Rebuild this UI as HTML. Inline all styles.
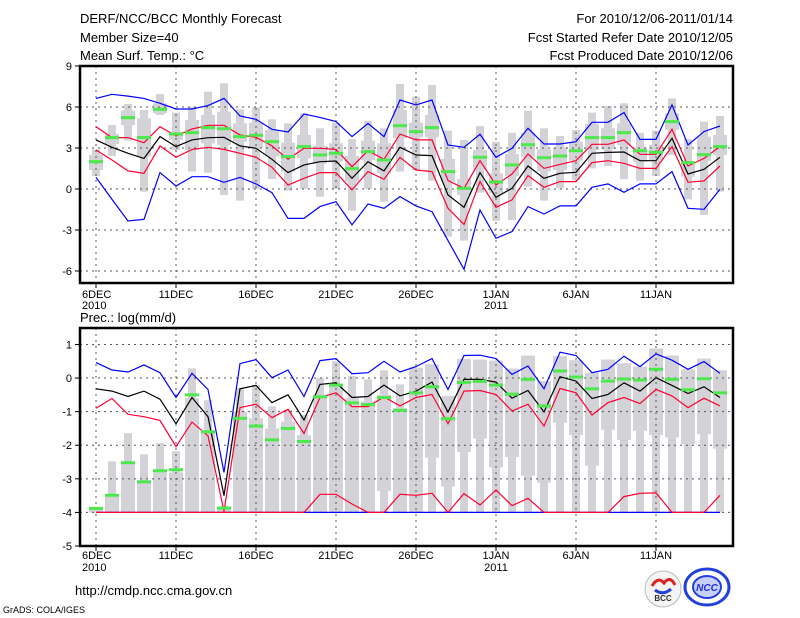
<!DOCTYPE html>
<html><head><meta charset="utf-8"><style>
body{margin:0;background:#fff;width:800px;height:618px;overflow:hidden}
svg{display:block;font-family:"Liberation Sans",sans-serif}
</style></head><body>
<svg id="c" width="800" height="618" xmlns="http://www.w3.org/2000/svg">
<text x="80" y="23" font-size="13">DERF/NCC/BCC Monthly Forecast</text>
<text x="80" y="42" font-size="13">Member Size=40</text>
<text x="80" y="60" font-size="13">Mean Surf. Temp.: °C</text>
<text x="733" y="23" font-size="13" text-anchor="end">For 2010/12/06-2011/01/14</text>
<text x="733" y="42" font-size="13" text-anchor="end">Fcst Started Refer Date 2010/12/05</text>
<text x="733" y="60" font-size="13" text-anchor="end">Fcst Produced Date 2010/12/06</text>
<text x="80" y="322" font-size="13">Prec.: log(mm/d)</text>
<text x="75" y="595" font-size="13">http://cmdp.ncc.cma.gov.cn</text>
<text x="3" y="613" font-size="9">GrADS: COLA/IGES</text>
<g><circle cx="663" cy="589" r="18" fill="#f4f4f4" stroke="#bbb"/><path d="M652 586 q6 -10 12 -3 q6 -8 11 2" fill="none" stroke="#e02020" stroke-width="3"/><path d="M655 590 q8 6 16 -1" fill="none" stroke="#2040d0" stroke-width="3"/><text x="663" y="601" font-size="8" font-weight="bold" text-anchor="middle" fill="#333">BCC</text></g>
<g><ellipse cx="707" cy="587" rx="22" ry="18" fill="none" stroke="#2040e0" stroke-width="3"/><ellipse cx="707" cy="587" rx="14" ry="11" fill="#c8d0ff" stroke="#2040e0" stroke-width="2"/><text x="707" y="591" font-size="10" font-style="italic" font-weight="bold" text-anchor="middle" fill="#2030d0">NCC</text></g>
</svg>
<script>
const days=['6DEC','11DEC','16DEC','21DEC','26DEC','1JAN','6JAN','11JAN'];
const years=['2010','','','','','2011','',''];
const tTicks=[9,6,3,0,-3,-6];
const pTicks=[1,0,-1,-2,-3,-4,-5];
// temperature
const tMean=[3.59,3.05,2.61,2.24,3.83,3.1,3.59,3.75,3.78,3.15,2.98,2.17,1.2,1.76,2.0,2.05,0.78,2.0,1.32,3.05,2.49,2.44,-0.44,-1.34,1.2,-0.61,0.05,1.68,0.78,1.15,1.22,2.61,2.68,2.71,2.07,2.07,3.71,1.1,1.44,2.32];
const tRedHi=[4.56,3.76,3.76,3.39,4.56,3.88,4.39,4.66,4.66,3.95,3.78,3.15,2.17,2.98,2.98,2.9,1.63,2.8,2.17,4.02,3.59,3.59,0.61,0.05,2.07,0.29,1.1,2.56,1.51,1.8,2.07,3.27,3.27,3.59,2.54,2.54,4.37,1.68,2.24,3.1];
const tRedLo=[2.85,2.12,1.32,1.15,3.15,2.32,2.9,3.05,2.9,2.61,2.32,1.59,0.29,0.78,1.2,1.2,-0.07,1.27,0.71,2.32,1.39,1.27,-1.41,-2.59,0.54,-1.34,-0.8,0.98,0.12,0.54,0.54,1.93,2.07,1.88,1.51,1.51,3.1,0.49,0.59,1.68];
const tBlueHi=[6.63,6.93,6.8,6.63,6.27,5.85,5.85,6.1,6.63,5.34,5.1,4.37,4.17,5.49,5.24,4.93,3.83,4.8,3.83,6.51,6.15,6.51,3.22,3.05,4.0,2.32,2.98,4.44,3.29,3.29,3.46,4.88,4.88,5.59,3.63,3.63,6.15,3.22,4.2,4.61];
const tBlueLo=[0.85,-0.76,-2.34,-2.22,1.2,0.22,0.9,0.9,0.49,0.85,0.37,-0.27,-2.15,-2.15,-1.29,-0.93,-2.63,-1.1,-1.41,-0.56,-1.24,-1.66,-3.78,-5.88,-1.54,-3.61,-3.12,-1.29,-1.83,-1.24,-1.24,0.12,0.37,-0.24,0.37,0.37,1.27,-1.41,-1.49,-0.02];
const tObs=[2.0,3.76,5.22,3.76,5.83,4.02,4.12,4.49,4.41,3.83,3.93,3.46,2.37,3.1,2.49,2.61,1.49,2.73,2.12,4.63,4.2,4.49,1.27,0.05,2.32,0.51,1.76,3.24,2.29,2.41,2.8,3.76,3.76,4.12,2.8,2.68,4.93,1.93,2.51,3.1];
const tMax=[2.9,4.68,6.22,5.78,6.95,5.59,6.02,7.12,7.73,5.83,5.98,5.1,4.8,5.54,4.44,4.85,3.66,5.0,4.44,7.68,6.76,7.61,4.27,3.59,4.61,3.46,4.12,5.73,4.44,3.88,4.32,5.59,6.07,6.27,4.12,4.27,6.63,3.66,4.93,5.34];
const tMin=[0.95,2.41,3.54,-0.2,5.41,2.85,1.27,1.2,-0.44,-0.85,-0.02,0.73,-0.12,0,-0.56,0,-1.59,0,-0.93,1.27,1.39,0.61,-3.49,-3.78,-0.27,-2.32,-2.27,0.17,-0.85,0.05,0.66,1.51,1.68,0.71,0.61,0.95,2.49,-0.76,-1.9,-0.2];
const tQ3=[2.49,4.02,5.73,5.17,6.27,4.2,5.05,5.41,5.66,4.8,4.85,4.32,3.39,3.95,3.15,3.34,2.41,3.54,3.34,5.78,4.85,5.41,2.2,0.73,2.85,1.15,2.56,4.12,2.9,3.05,3.46,4.76,4.44,4.8,3.05,3.22,5.54,2.0,3.83,3.95];
const tQ1=[1.39,3.29,4.68,2.37,5.54,3.59,2.85,3.34,3.22,3.46,3.05,2.37,1.27,2.24,1.83,2.0,0.54,2.12,1.15,3.71,3.78,3.78,0.54,-0.44,1.39,-0.32,0.95,2.37,1.27,1.39,2.07,2.85,2.9,3.22,2.0,2.12,4.32,0.9,2.05,2.49];
// precipitation
const pMean=[-0.32,-0.39,-0.55,-0.39,-0.63,-1.36,-0.58,-1.15,-3.5,-0.32,-0.22,-0.73,-0.5,-1.25,-0.19,-0.14,-0.58,-0.55,-0.21,-0.53,-0.39,-0.12,-1.01,-0.04,-0.04,-0.12,-0.6,-0.37,-1.01,0.04,-0.09,-0.61,-0.49,-0.14,-0.39,0.01,-0.22,-0.46,-0.26,-0.58];
const pBlueHi=[0.46,0.24,0.18,0.39,0.16,-0.58,0.14,-0.34,-2.81,0.43,0.55,0.01,0.24,-0.55,0.52,0.58,0.13,0.16,0.5,0.18,0.34,0.58,-0.34,0.67,0.68,0.58,0.11,0.36,-0.32,0.77,0.67,0.16,0.26,0.65,0.34,0.72,0.53,0.26,0.49,0.14];
const pRedHi=[-0.9,-0.61,-1.08,-1.15,-1.26,-2.04,-1.31,-1.72,-3.97,-0.88,-0.78,-1.18,-0.93,-1.65,-0.58,-0.44,-0.85,-0.85,-0.56,-0.83,-0.58,-0.49,-1.36,-0.39,-0.37,-0.49,-0.98,-0.78,-1.43,-0.31,-0.44,-1.1,-0.73,-0.58,-0.76,-0.34,-0.53,-0.88,-0.6,-0.83];
const pRedLo=[-4,-4,-4,-4,-4,-4,-4,-4,-4,-4,-4,-4,-4,-4,-3.46,-3.46,-3.75,-4,-4,-3.46,-3.49,-3.43,-4,-3.44,-3.78,-3.33,-3.8,-3.58,-4,-4,-4,-4,-4,-3.53,-3.43,-3.42,-4,-4,-4,-3.49];
const pBlueLo=[-4,-4,-4,-4,-4,-4,-4,-4,-4,-4,-4,-4,-4,-4,-4,-4,-4,-4,-4,-4,-4,-4,-4,-4,-4,-4,-4,-4,-4,-4,-4,-4,-4,-4,-4,-4,-4,-4,-4,-4];
const pObs=[-3.88,-3.49,-2.52,-3.09,-2.76,-2.73,-0.5,-1.6,-3.87,-1.2,-1.43,-1.84,-1.5,-1.89,-0.56,-0.21,-0.74,-0.79,-0.58,-0.96,-0.44,-0.26,-1.21,-0.13,-0.1,-0.21,-0.48,-0.04,-0.83,0.21,0.03,-0.32,-0.09,-0.03,-0.06,0.26,-0.04,-0.35,-0.02,-0.44];
const pMax=[-3.9,-2.48,-1.64,-2.27,-1.94,-2.18,0.29,-0.66,-3.8,-0.3,-0.2,-0.84,-0.93,-1.1,0.0,0.5,0.06,-0.04,0.23,-0.19,0.31,0.41,-0.53,0.57,0.55,0.52,0.28,0.67,-0.09,0.65,0.53,0.16,0.55,0.44,0.34,0.88,0.67,0.26,0.58,0.23];
const pQ3=[-3.9,-3.53,-2.5,-3.1,-2.81,-2.81,-0.6,-1.6,-3.85,-1.0,-1.2,-1.5,-1.3,-1.7,-0.5,-0.2,-0.6,-0.7,-0.5,-0.9,0.31,0.41,-0.53,0.57,0.55,0.52,0.28,0.67,-0.09,0.65,0.53,0.16,0.55,0.44,0.34,0.88,0.67,0.26,0.58,0.23];
const pQ1=[-4,-4,-4,-4,-4,-4,-4,-4,-4,-4,-4,-4,-4,-4,-4,-4,-4,-4,-3.36,-4,-4,-2.37,-3.23,-2.2,-1.8,-2.66,-2.35,-2.91,-3.11,-1.33,-1.7,-2.61,-1.54,-1.84,-1.57,-1.7,-1.77,-1.97,-1.67,-2.1];
const pMin=pBlueLo;

const svg=document.getElementById('c');
const NS='http://www.w3.org/2000/svg';
function mk(tag,attrs,parent){const e=document.createElementNS(NS,tag);for(const k in attrs)e.setAttribute(k,attrs[k]);(parent||svg).appendChild(e);return e;}
const X0=80,X1=733;
function xd(i){return 96+16*i;}

function panel(name,top,bot,vTop,vBot,ticks,yearY,labY,data){
  const ys=v=>top+(vTop-v)/(vTop-vBot)*(bot-top);
  const g=mk('g',{});
  
  
  // gray boxes
  for(let i=0;i<40;i++){
    const o=mk('rect',{x:xd(i)-4,y:ys(data.max[i]),width:8,height:Math.max(1,ys(data.min[i])-ys(data.max[i])),fill:'#d3d3d7'},g);
    
    
    const b=mk('rect',{x:xd(i)-7,y:ys(data.q3[i]),width:14,height:Math.max(1,ys(data.q1[i])-ys(data.q3[i])),fill:'#d3d3d7'},g);
    
    
  }
  // grid
  ticks.forEach(t=>{if(t<vTop&&t>vBot){const l=mk('line',{x1:X0,x2:X1,y1:ys(t),y2:ys(t),stroke:'#555','stroke-dasharray':'2,4'},g);}});
  days.forEach((d,k)=>{const x=xd(k*5);const l=mk('line',{x1:x,x2:x,y1:top,y2:bot,stroke:'#555','stroke-dasharray':'2,4'},g);});
  // lines
  const lines=[[data.blueLo,'#0000ff'],[data.blueHi,'#0000ff'],[data.redLo,'#ff0033'],[data.redHi,'#ff0033'],[data.mean,'#000']];
  lines.forEach(([arr,col],j)=>{
    const p=mk('polyline',{points:arr.map((v,i)=>xd(i)+','+ys(v).toFixed(1)).join(' '),fill:'none',stroke:col,'stroke-width':1.2},g);
    
    
  });
  for(let i=0;i<40;i++){
    const r=mk('rect',{x:xd(i)-7,y:ys(data.obs[i])-1.5,width:14,height:3,fill:'#4ce84c'},g);
    
    
  }
  // frame
  const f=mk('rect',{x:X0,y:top,width:X1-X0,height:bot-top,fill:'none',stroke:'#000','stroke-width':2.5},g);
  
  
  ticks.forEach(t=>{
    const y=ys(t);
    mk('line',{x1:X0-5,x2:X0,y1:y,y2:y,stroke:'#000'},g);
    const tx=mk('text',{x:X0-8,y:y+4,'font-size':11,'text-anchor':'end'},g);
    tx.textContent=t;
    
    
  });
  days.forEach((d,k)=>{
    const x=xd(k*5);
    mk('line',{x1:x,x2:x,y1:bot,y2:bot+5,stroke:'#000'},g);
    const tx=mk('text',{x:x,y:labY,'font-size':11,'text-anchor':k==0?'start':'middle'},g);
    if(k==0)tx.setAttribute('x',x-14);
    tx.textContent=d;
    
    
    if(years[k]){const yt=mk('text',{x:k==0?x-14:x,y:yearY,'font-size':11,'text-anchor':k==0?'start':'middle'},g);yt.textContent=years[k];
      
      }
  });
}
panel('temperature-panel',66,283,9,-6.88,tTicks,309,298,{mean:tMean,redHi:tRedHi,redLo:tRedLo,blueHi:tBlueHi,blueLo:tBlueLo,obs:tObs,max:tMax,min:tMin,q3:tQ3,q1:tQ1});
panel('precipitation-panel',328,546,1.49,-5,pTicks,571,559,{mean:pMean,redHi:pRedHi,redLo:pRedLo,blueHi:pBlueHi,blueLo:pBlueLo,obs:pObs,max:pMax,min:pMin,q3:pQ3,q1:pQ1});
</script>
</body></html>
